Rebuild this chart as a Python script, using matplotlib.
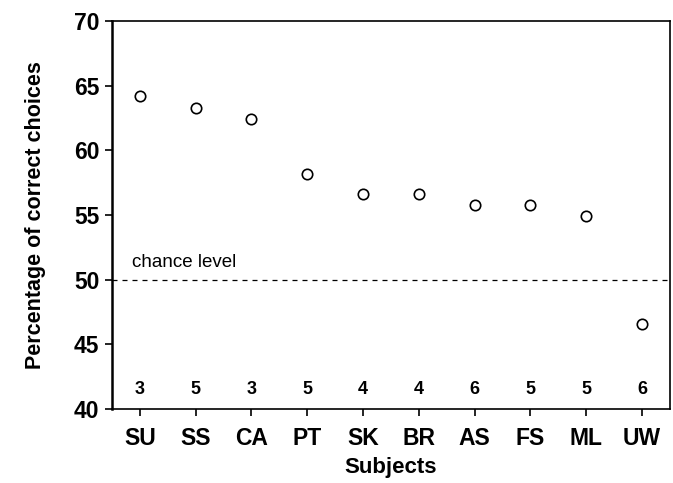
import matplotlib
matplotlib.use('Agg')
import matplotlib.pyplot as plt

plt.rcParams['font.family'] = ['Liberation Sans', 'DejaVu Sans']

sujetos = ['SU', 'SS', 'CA', 'PT', 'SK', 'BR', 'AS', 'FS', 'ML', 'UW']
porcentajes = [64.2, 63.3, 62.45, 58.2, 56.6, 56.6, 55.75, 55.75, 54.9, 46.6]
sesiones = [3, 5, 3, 5, 4, 4, 6, 5, 5, 6]
azar = 50

fig = plt.figure(figsize=(6.73, 4.83), dpi=100)
ax = fig.add_axes([0.1664, 0.1532, 0.8291, 0.8033])

x = list(range(len(sujetos)))
ax.plot(x, porcentajes, 'o', markersize=7.5, markerfacecolor='white',
        markeredgecolor='black', markeredgewidth=1.2)
ax.axhline(azar, color='black', linestyle=(0, (4, 4)), linewidth=0.9)
ax.text(-0.15, 50.7, 'chance level', fontsize=13.5, va='bottom', ha='left')

for xi, n in zip(x, sesiones):
    ax.text(xi, 41.5, str(n), fontsize=13, fontweight='bold', ha='center', va='center')

ax.set_xlim(-0.5, 9.5)
ax.set_ylim(40, 70)
ax.set_yticks([40, 45, 50, 55, 60, 65, 70])
ax.set_xticks(x)
ax.set_xticklabels(sujetos)
for lab in ax.get_xticklabels() + ax.get_yticklabels():
    lab.set_fontweight('bold')
    lab.set_fontsize(16.5)
ax.tick_params(axis='y', direction='out', length=5, width=1.2, pad=4)
ax.tick_params(axis='x', direction='out', length=5, width=1.2, pad=8)
for s in ax.spines.values():
    s.set_linewidth(1.2)
ax.spines['left'].set_linewidth(1.8)

ax.set_xlabel('Subjects', fontsize=16, fontweight='bold', labelpad=5)
ax.set_ylabel('Percentage of correct choices', fontsize=15.5, fontweight='bold', labelpad=20)

fig.savefig('out.png', dpi=100)
